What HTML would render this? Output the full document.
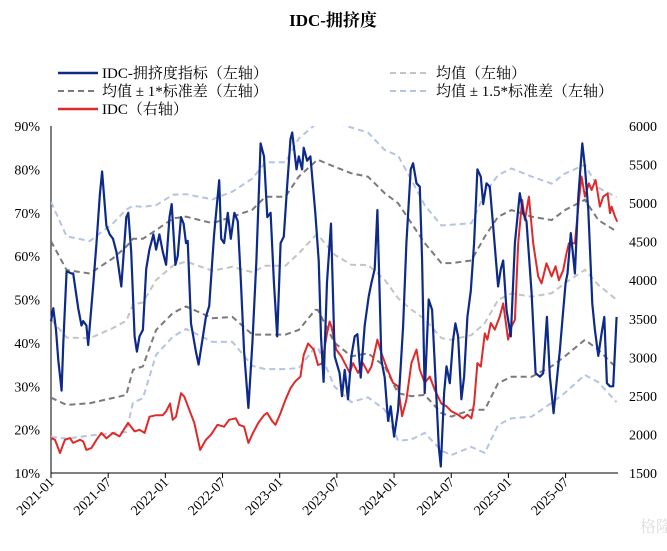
<!DOCTYPE html>
<html><head><meta charset="utf-8">
<style>
body{margin:0;background:#fff;}
svg text{font-family:"Liberation Serif","Noto Serif CJK SC",serif;}
</style></head>
<body>
<svg id="chart" width="667" height="546" viewBox="0 0 667 546" xmlns="http://www.w3.org/2000/svg">
<text x="333" y="26" text-anchor="middle" font-size="17" font-weight="bold">IDC-拥挤度</text>
<g font-size="15">
 <g><line x1="58" y1="73" x2="98" y2="73" stroke="#0d2a8a" stroke-width="2.5"/><text x="102" y="78">IDC-拥挤度指标（左轴）</text></g>
 <g><line x1="390" y1="73" x2="430" y2="73" stroke="#c4c4c4" stroke-width="2" stroke-dasharray="6,4"/><text x="436" y="78">均值（左轴）</text></g>
 <g><line x1="58" y1="91" x2="98" y2="91" stroke="#7a7a7a" stroke-width="2" stroke-dasharray="6,4"/><text x="102" y="96">均值 ± 1*标准差（左轴）</text></g>
 <g><line x1="390" y1="91" x2="430" y2="91" stroke="#b4c4e2" stroke-width="2" stroke-dasharray="6,4"/><text x="436" y="96">均值 ± 1.5*标准差（左轴）</text></g>
 <g><line x1="58" y1="109" x2="98" y2="109" stroke="#e02a2a" stroke-width="2.5"/><text x="102" y="114">IDC（右轴）</text></g>
</g>
<g id="plot"></g>
<text x="640" y="532" font-size="16" fill="#ddd">格隆汇</text>
</svg>
<script>
const xTickLabels=["2021-01","2021-07","2022-01","2022-07","2023-01","2023-07","2024-01","2024-07","2025-01","2025-07"];
const xTickMonths=[0,6,12,18,24,30,36,42,48,54];
const leftTicks=[10,20,30,40,50,60,70,80,90];
const rightTicks=[1500,2000,2500,3000,3500,4000,4500,5000,5500,6000];
const crowdT=[0,.24,.52,.77,1.11,1.29,1.64,2.16,2.33,2.85,3.2,3.38,3.72,3.9,4.42,4.77,5.12,5.36,5.81,6.16,6.51,6.86,7.38,7.9,8.11,8.42,8.77,9.01,9.29,9.64,9.99,10.33,10.75,11.03,11.38,11.73,12.08,12.43,12.67,13.05,13.3,13.64,13.92,14.17,14.34,14.69,15.21,15.49,15.91,16.25,16.6,17.12,17.65,17.86,18.17,18.55,18.87,19.25,19.6,19.91,20.26,20.71,21.13,21.55,22.0,22.35,22.7,23.04,23.39,23.74,24.09,24.43,24.78,25.13,25.31,25.55,25.76,26.0,26.35,26.52,26.87,27.22,27.74,28.09,28.33,28.61,28.96,29.38,29.77,30.29,30.54,30.82,31.17,31.52,31.87,32.15,32.5,32.92,33.34,33.62,33.97,34.25,34.67,35.02,35.37,35.65,36,36.42,36.95,37.3,37.75,38.0,38.35,38.7,38.94,39.22,39.64,39.99,40.34,40.69,40.9,41.25,41.5,41.85,42.2,42.44,42.72,43.07,43.35,43.7,44.05,44.4,44.75,45.1,45.35,45.7,46.05,46.4,46.92,47.2,47.45,47.8,48.25,48.68,49.2,49.55,49.9,50.43,50.85,51.3,51.65,52.04,52.35,52.74,53.05,53.4,53.65,54.0,54.2,54.55,54.98,55.33,55.75,56.03,56.38,56.8,57.08,57.43,57.78,58.06,58.34,58.66,59.0,59.35];
const crowdV=[45,48,43,36,29,40,56.5,56,56,48,44,45,44,39.5,53,63,74,79.5,67,65,64,61,53,69,70,61,41.5,38,41.5,43,57,61.5,65,61.5,65,61,58,69,72,58,60,69,67.5,63,63.5,44.5,38,35,41,46,48.5,65,77.5,64,63,70,64,70,68,55,38,25,40,59,86,83,69,70,54,41.5,63,64.5,76,87,88.5,84,80,83,80,85,82,83,70,59,41.5,31,54,67.5,36.9,33,27.7,33.8,27,37,41.5,42,32,44,50.7,53.8,57,70.6,36,32,22,25.4,18.4,24.6,43.8,63,80,81.4,76.8,76,59,28.4,50,47.6,32.2,16,11.5,28.4,34.6,30.7,40.7,44.5,41.5,27,32.2,46,52,63,80,78.3,72,76.8,76,66.8,53,57,59,47.6,41.5,63,74.5,70,68,51.5,33,32.2,33,46,32.2,23.8,30.7,38.4,45,53.8,56,65.3,56,73.7,86,80.6,70.6,49,43,37,42.2,46,30.7,30,30,46];
const idcT=[0,.42,.94,1.46,1.98,2.33,3.03,3.38,3.72,4.25,4.77,5.29,5.81,6.51,7.2,8.08,8.77,9.29,9.82,10.34,11.03,11.73,12.08,12.5,12.77,13.12,13.64,13.99,14.51,15.04,15.66,16.25,16.78,17.47,18.17,18.69,19.39,19.74,20.26,20.71,21.2,21.75,22.35,22.69,23.22,23.56,24.09,24.61,25.13,25.65,26.17,26.52,26.98,27.57,28.02,28.44,28.96,29.24,29.42,29.94,30.47,30.82,31.34,31.69,32.22,32.74,33.27,33.62,34.25,34.67,35.19,35.89,36.42,36.84,37.3,37.82,38.35,38.7,39.22,39.75,40.27,40.97,41.5,42.02,42.72,43.25,43.7,44.12,44.4,44.75,45.1,45.52,45.8,46.15,46.57,47.1,47.45,47.97,48.32,48.68,49.03,49.45,49.73,50.15,50.6,51.13,51.48,52.0,52.53,52.95,53.3,53.75,54.1,54.35,54.98,55.4,55.68,56.03,56.45,56.73,57.15,57.6,57.96,58.41,58.66,58.83,59.18,59.42];
const idcV=[1953,1930,1760,1930,1953,1890,1930,1910,1800,1825,1930,2020,1950,2020,1975,2150,2040,2060,2020,2230,2250,2250,2300,2400,2190,2230,2535,2490,2320,2150,1800,1930,1995,2125,2100,2190,2210,2125,2100,1890,2020,2150,2250,2280,2170,2125,2280,2450,2600,2690,2750,3030,3180,3100,2900,2920,3310,3465,3400,3100,3010,2925,2800,2925,2800,2925,2800,2880,3230,3055,2880,2670,2625,2235,2450,2925,3100,2840,2670,2750,2580,2400,2365,2300,2255,2210,2255,2210,2400,2925,2880,3310,3230,3445,3360,3530,3700,3230,3400,3485,4480,5040,4780,5085,4480,4050,3960,4220,4050,4180,4000,4130,4350,4480,4480,5040,5345,5085,5255,5170,5300,4955,5085,5125,4870,4955,4825,4760];
const bandT=[0,1.64,4.07,6.5,7.9,8.6,9.64,11.03,12.8,14.17,16.95,19.04,21.13,22.5,24.6,26,27.74,28.0,29.77,31.52,33.27,35.02,36.42,37.82,39.22,40.97,42.02,44.12,45.52,46.92,48.32,50.43,52.53,53.93,56.03,57.43,59.35];
const bandMean=[45.4,41.25,41.05,43.4,45.1,48.9,49.3,54.5,57.8,58.75,56.65,57.55,56.3,57.8,57.8,60.65,64.7,64.9,60.3,58,57.95,54.55,50.3,47.65,45.5,41.1,40.7,41.8,44.55,49.9,51.4,50.65,51.45,53.75,56.85,53.35,49.95];
const bandStd=[18.05,15.55,14.95,16.1,17.1,15.1,14.7,11.5,10.9,10.35,10.95,11.55,14.4,15.9,15.9,17.65,17.1,17.3,20.3,21.1,20.35,19.95,21.9,19.95,17.5,17.3,17.7,17.2,19.95,19.2,19.2,18.45,16.85,16.85,16.15,14.95,15.75];

const NS="http://www.w3.org/2000/svg";
const L=51,R=618,T=126,B=473;
const xS=t=>L+t*(R-L)/59.5;
const yL=v=>B-(v-10)*(B-T)/80;
const yR=v=>B-(v-1500)*(B-T)/4500;
const plot=document.getElementById('plot');
function mk(tag,attrs){const e=document.createElementNS(NS,tag);for(const k in attrs)e.setAttribute(k,attrs[k]);return e;}
function path(ts,vs,ys){return ts.map((t,i)=>(i?'L':'M')+xS(t).toFixed(1)+','+ys(vs[i]).toFixed(1)).join('');}

const ax=mk('path',{d:`M${L},${T}L${L},${B}L${R},${B}`,stroke:'#000','stroke-width':1,fill:'none'});


plot.appendChild(ax);
leftTicks.forEach(v=>{const t=mk('text',{x:40,y:yL(v)+5,'text-anchor':'end','font-size':14});t.textContent=v+'%';


plot.appendChild(t);});
rightTicks.forEach(v=>{const t=mk('text',{x:629,y:yR(v)+5,'font-size':14});t.textContent=v;


plot.appendChild(t);});
xTickMonths.forEach((m,i)=>{const x=xS(m);
const tk=mk('line',{x1:x,y1:B,x2:x,y2:B+5,stroke:'#000'});


plot.appendChild(tk);
const t=mk('text',{x:x+4,y:B+10,'text-anchor':'end','font-size':14,transform:`rotate(-45 ${x+4} ${B+10})`});t.textContent=xTickLabels[i];


plot.appendChild(t);});

const cp=document.createElementNS(NS,'clipPath');cp.setAttribute('id','clp');cp.appendChild(mk('rect',{x:L,y:T,width:R-L,height:B-T}));plot.appendChild(cp);
const bands=[[0,'#c4c4c4','mean-line'],[1,'#7a7a7a','plus-1std-line'],[-1,'#7a7a7a','minus-1std-line'],[1.5,'#b4c4e2','plus-1.5std-line'],[-1.5,'#b4c4e2','minus-1.5std-line']];
bands.forEach(b=>{const vs=bandMean.map((m,i)=>m+b[0]*bandStd[i]);
const p=mk('path',{d:path(bandT,vs,yL),stroke:b[1],'stroke-width':2,fill:'none','stroke-dasharray':'6,4','clip-path':'url(#clp)'});


plot.appendChild(p);});

const red=mk('path',{d:path(idcT,idcV,yR),stroke:'#e02a2a','stroke-width':2,fill:'none','stroke-linejoin':'round'});


plot.appendChild(red);
const blue=mk('path',{d:path(crowdT,crowdV,yL),stroke:'#0d2a8a','stroke-width':2.2,fill:'none','stroke-linejoin':'round'});


plot.appendChild(blue);
</script>
</body></html>
